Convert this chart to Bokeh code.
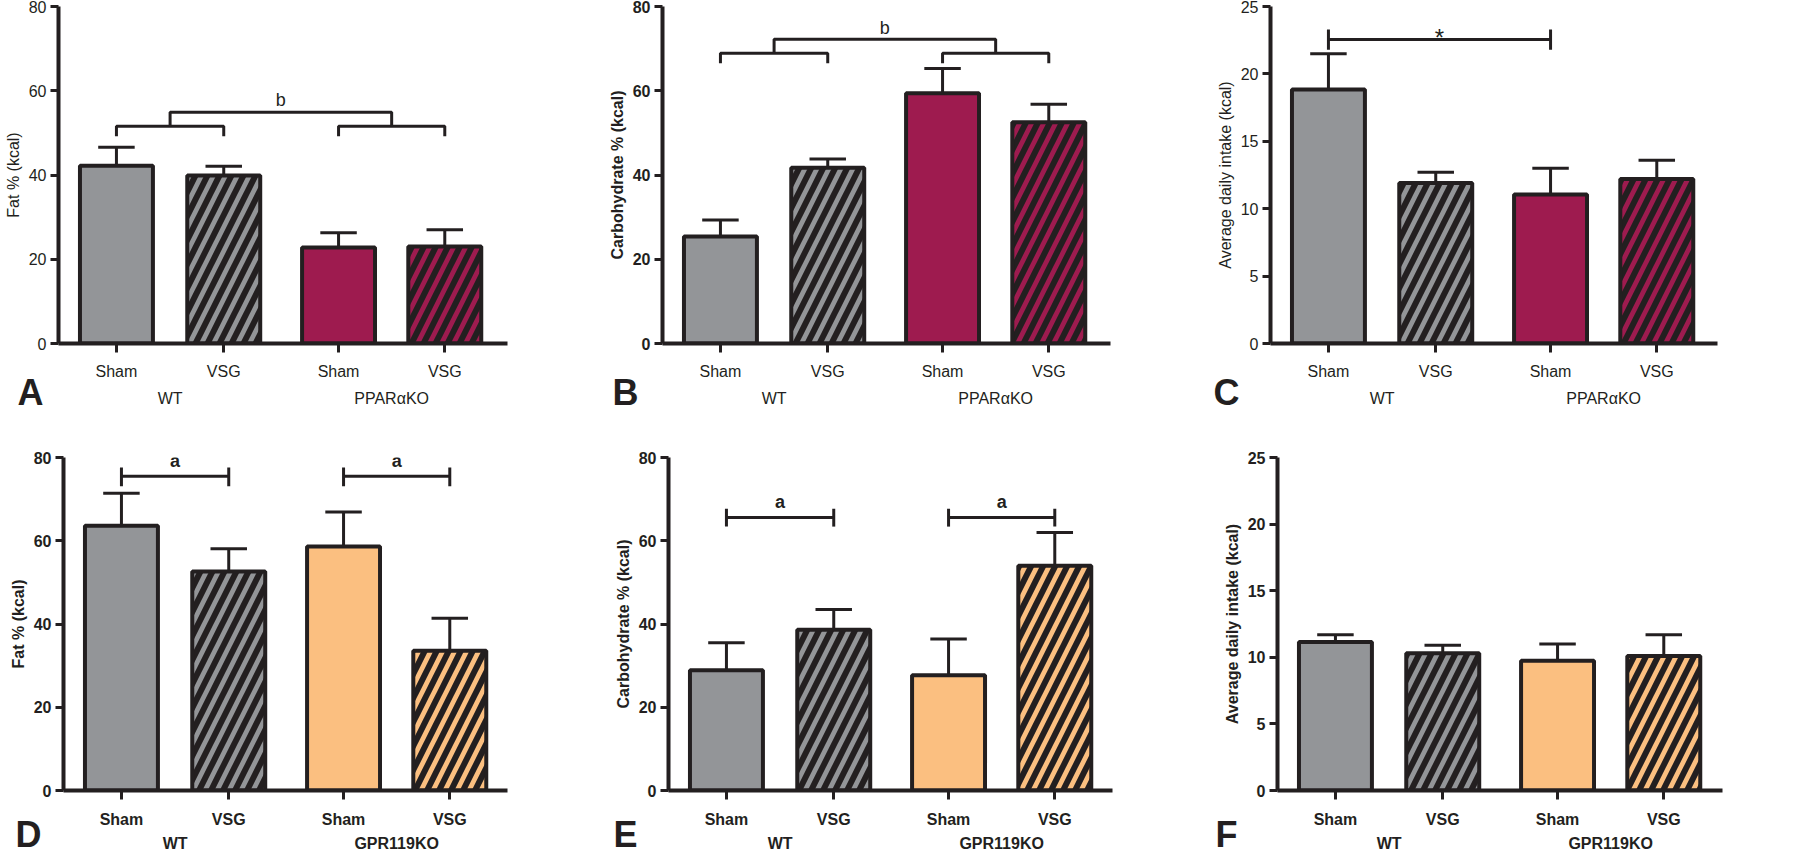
from bokeh.plotting import figure
from bokeh.layouts import column, row
from bokeh.models import FixedTicker, LinearAxis, Title, Range1d, ColumnDataSource
from bokeh.embed import file_html
from bokeh.resources import INLINE
from bokeh.core.properties import value

# ---------------- data ----------------
surgery = ["Sham", "VSG", "Sham", "VSG"]
genotypes_ppar = ["WT", "PPARαKO"]
genotypes_gpr = ["WT", "GPR119KO"]

fat_ppar = [42.2, 39.9, 22.8, 23.0]
fat_ppar_err = [4.4, 2.2, 3.5, 4.0]
carb_ppar = [25.4, 41.7, 59.4, 52.5]
carb_ppar_err = [3.9, 2.1, 5.9, 4.3]
intake_ppar = [18.85, 11.9, 11.05, 12.2]
intake_ppar_err = [2.65, 0.8, 1.95, 1.4]

fat_gpr = [63.6, 52.6, 58.6, 33.6]
fat_gpr_err = [7.8, 5.5, 8.3, 7.8]
carb_gpr = [28.9, 38.6, 27.7, 54.0]
carb_gpr_err = [6.6, 4.9, 8.7, 8.0]
intake_gpr = [11.15, 10.3, 9.75, 10.1]
intake_gpr_err = [0.55, 0.6, 1.25, 1.6]

ticks_pct = [0, 20, 40, 60, 80]
ticks_kcal = [0, 5, 10, 15, 20, 25]

# significance annotation levels (data units)
sig_A = dict(kind="nested", low=51.6, leg=49.2, high=54.9, text="b", ty=57.8)
sig_B = dict(kind="nested", low=68.9, leg=66.5, high=72.2, text="b", ty=74.8)
sig_C = dict(kind="single", level=22.55, lo=21.8, hi=23.3, text="*", ty=22.7)
sig_D = dict(kind="pairs", level=75.5, lo=73.1, hi=77.6, text="a", ty=79.2)
sig_E = dict(kind="pairs", level=65.6, lo=63.4, hi=67.7, text="a", ty=69.4)
sig_F = dict(kind="none")

# ---------------- style ----------------
GRAY = "#939598"
PPAR = "#9e1b4f"
GPR = "#fbbf80"
INK = "#231f20"
FONT = "Liberation Sans"
POS = [1.0, 2.0, 3.07, 4.06]
X0 = 0.46
PPU = 107.3
BAR_W = 0.68
CAP = 0.17


def panel(vals, errs, genos, ko_color, ymax, yticks, ylabel, letter, sig,
          bold_nums, bold_ylabel, bold_cats, width, mbl, frame_w, mbt, frame_h,
          height, letter_off, letter_standoff, cat_standoff, grp_standoff):
    x_end = X0 + frame_w / PPU
    mbr = width - mbl - frame_w
    p = figure(width=width, height=height, x_range=Range1d(X0, x_end),
               y_range=Range1d(0, ymax), output_backend="svg",
               toolbar_location=None, min_border_left=mbl, min_border_right=mbr,
               min_border_top=mbt, min_border_bottom=height - mbt - frame_h)
    p.xgrid.visible = False
    p.ygrid.visible = False
    p.outline_line_color = None
    p.background_fill_color = "white"
    p.border_fill_color = "white"

    # error bars (upper only)
    tops = [v + e for v, e in zip(vals, errs)]
    p.segment(x0=POS, y0=vals, x1=POS, y1=tops, line_width=3, line_color=INK)
    p.segment(x0=[x - CAP for x in POS], y0=tops, x1=[x + CAP for x in POS], y1=tops,
              line_width=3, line_color=INK)

    src = ColumnDataSource(dict(
        x=POS, top=vals,
        fill=[GRAY, GRAY, ko_color, ko_color],
        hatch=[" ", "/", " ", "/"],
    ))
    p.vbar(x="x", top="top", bottom=0, width=BAR_W, source=src,
           fill_color="fill", line_color=INK, line_width=4,
           hatch_pattern="hatch", hatch_color=INK, hatch_weight=6, hatch_scale=24)

    # significance
    xs, ys, tx = [], [], []
    if sig["kind"] == "nested":
        m1 = (POS[0] + POS[1]) / 2
        m2 = (POS[2] + POS[3]) / 2
        xs += [[POS[0], POS[0], POS[1], POS[1]], [POS[2], POS[2], POS[3], POS[3]],
               [m1, m1, m2, m2]]
        ys += [[sig["leg"], sig["low"], sig["low"], sig["leg"]],
               [sig["leg"], sig["low"], sig["low"], sig["leg"]],
               [sig["low"], sig["high"], sig["high"], sig["low"]]]
        tx = [(m1 + m2) / 2]
    elif sig["kind"] == "single":
        xs += [[POS[0], POS[2]], [POS[0], POS[0]], [POS[2], POS[2]]]
        ys += [[sig["level"], sig["level"]], [sig["lo"], sig["hi"]], [sig["lo"], sig["hi"]]]
        tx = [(POS[0] + POS[2]) / 2]
    elif sig["kind"] == "pairs":
        for a, b in [(POS[0], POS[1]), (POS[2], POS[3])]:
            xs += [[a, b], [a, a], [b, b]]
            ys += [[sig["level"], sig["level"]], [sig["lo"], sig["hi"]], [sig["lo"], sig["hi"]]]
            tx.append((a + b) / 2)
    if xs:
        p.multi_line(xs, ys, line_width=3, line_color=INK)
    if tx:
        p.text(x=tx, y=[sig["ty"]] * len(tx), text=[sig["text"]] * len(tx),
               text_font=value(FONT),
               text_font_size="24px" if sig["kind"] == "single" else "18px",
               text_color=INK,
               text_font_style="bold" if bold_cats else "normal",
               text_align="center", text_baseline="middle")

    # y axis
    ya = p.yaxis[0]
    ya.ticker = FixedTicker(ticks=yticks, minor_ticks=[])
    ya.axis_line_width = 4
    ya.axis_line_color = INK
    ya.major_tick_line_width = 3
    ya.major_tick_line_color = INK
    ya.major_tick_out = 8
    ya.major_tick_in = 0
    ya.minor_tick_line_color = None
    ya.major_label_text_font = FONT
    ya.major_label_text_font_size = "16px"
    ya.major_label_text_color = INK
    ya.major_label_text_font_style = "bold" if bold_nums else "normal"
    ya.major_label_standoff = 4
    ya.axis_label = ylabel
    ya.axis_label_text_font = FONT
    ya.axis_label_text_font_size = "16px"
    ya.axis_label_text_color = INK
    ya.axis_label_text_font_style = "bold" if bold_ylabel else "normal"
    ya.axis_label_standoff = 4

    # x axis (surgery)
    xa = p.xaxis[0]
    xa.ticker = FixedTicker(ticks=POS, minor_ticks=[])
    xa.major_label_overrides = {POS[i]: surgery[i] for i in range(4)}
    xa.axis_line_width = 4
    xa.axis_line_color = INK
    xa.major_tick_line_width = 3
    xa.major_tick_line_color = INK
    xa.major_tick_out = 9
    xa.major_tick_in = 0
    xa.minor_tick_line_color = None
    xa.major_label_text_font = FONT
    xa.major_label_text_font_size = "16px"
    xa.major_label_text_color = INK
    xa.major_label_text_font_style = "bold" if bold_cats else "normal"
    xa.major_label_standoff = cat_standoff

    # second x axis (genotype)
    gc = [(POS[0] + POS[1]) / 2, (POS[2] + POS[3]) / 2]
    ga = LinearAxis(ticker=FixedTicker(ticks=gc, minor_ticks=[]),
                    major_label_overrides={gc[0]: genos[0], gc[1]: genos[1]},
                    axis_line_color=None, major_tick_line_color=None,
                    minor_tick_line_color=None, major_tick_out=0, major_tick_in=0,
                    major_label_text_font=FONT, major_label_text_font_size="16px",
                    major_label_text_color=INK,
                    major_label_text_font_style="bold" if bold_cats else "normal",
                    major_label_standoff=grp_standoff)
    p.add_layout(ga, "below")

    # panel letter, as a title in the bottom panel pulled up beside the labels
    p.add_layout(Title(text=letter, align="left", offset=letter_off,
                       vertical_align="top", standoff=letter_standoff,
                       text_font=FONT, text_font_size="36px",
                       text_font_style="bold", text_color=INK), "below")
    return p


TOP_H, BOT_H = 430, 424

pA = panel(fat_ppar, fat_ppar_err, genotypes_ppar, PPAR, 80, ticks_pct, "Fat % (kcal)", "A",
           sig_A, False, False, False, 600, 58, 449, 6, 338, TOP_H, -41, -76, 10, 7)
pB = panel(carb_ppar, carb_ppar_err, genotypes_ppar, PPAR, 80, ticks_pct, "Carbohydrate % (kcal)", "B",
           sig_B, True, True, False, 600, 62, 448, 6, 338, TOP_H, -50, -76, 10, 7)
pC = panel(intake_ppar, intake_ppar_err, genotypes_ppar, PPAR, 25, ticks_kcal, "Average daily intake (kcal)", "C",
           sig_C, False, False, False, 598, 70, 447, 6, 337, TOP_H, -57, -76, 10, 7)

pD = panel(fat_gpr, fat_gpr_err, genotypes_gpr, GPR, 80, ticks_pct, "Fat % (kcal)", "D",
           sig_D, True, True, True, 600, 63, 444, 27, 335, BOT_H, -48, -82, 11, 4)
pE = panel(carb_gpr, carb_gpr_err, genotypes_gpr, GPR, 80, ticks_pct, "Carbohydrate % (kcal)", "E",
           sig_E, True, True, True, 600, 68, 444, 25, 337, BOT_H, -55, -82, 11, 4)
pF = panel(intake_gpr, intake_gpr_err, genotypes_gpr, GPR, 25, ticks_kcal, "Average daily intake (kcal)", "F",
           sig_F, True, True, True, 598, 77, 445, 23, 338, BOT_H, -62, -82, 11, 4)

layout = column(row(pA, pB, pC), row(pD, pE, pF))
open("out.html", "w").write(file_html(layout, INLINE))
